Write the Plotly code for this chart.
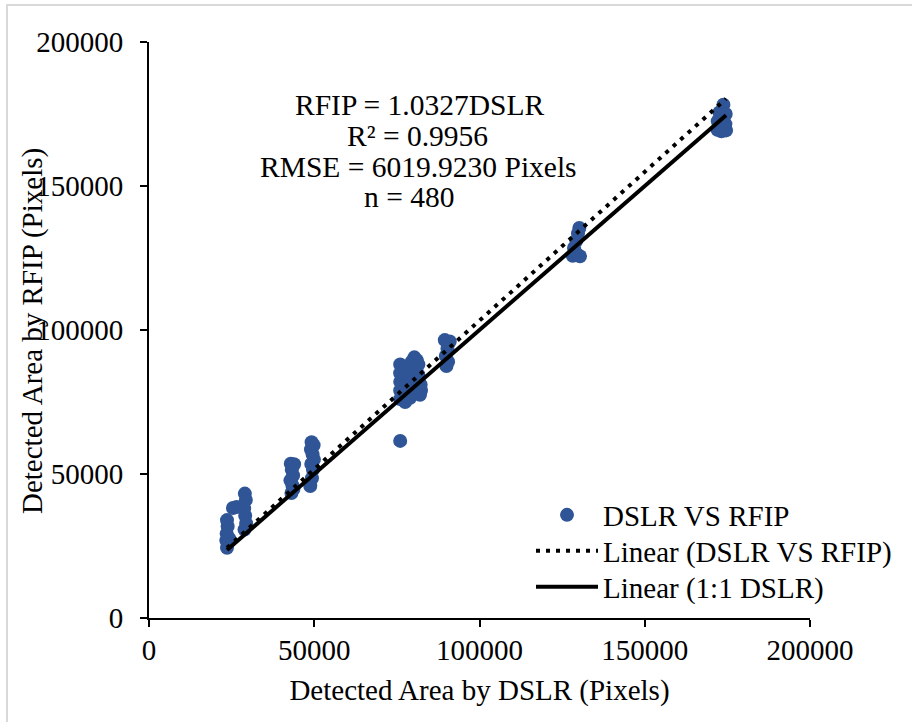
import plotly.graph_objects as go

# ---- data ----
dslr_a = [23600, 23400, 23500, 23800, 23600, 25400, 26500, 24300]
rfip_a = [24400, 26900, 29300, 31800, 34000, 38200, 38500, 27500]

dslr_a2 = [29000, 29300, 28800, 29100, 29400, 28900]
rfip_a2 = [43200, 41000, 38000, 35500, 32800, 30700]

dslr_b = [42900, 43900, 43200, 43600, 42800, 43400, 43700, 43100]
rfip_b = [53600, 53400, 51500, 49500, 47800, 46000, 44800, 43400]

dslr_c = [49200, 49800, 49000, 49500, 49900, 49100, 49600, 49300, 48800]
rfip_c = [61000, 60000, 58500, 56800, 55000, 53500, 51500, 48500, 45800]

dslr_d = [76000, 76000, 76000, 76000, 76000, 77500, 77500, 78000, 78000, 78000,
          79500, 80300, 81000, 80000, 80000, 80000, 81500, 81500, 82200, 82300,
          82000, 79000, 77000, 76000]
rfip_d = [88000, 85000, 82000, 79000, 76000, 75000, 87000, 84000, 81000, 78000,
          89000, 90500, 89500, 86000, 83000, 80000, 88000, 84500, 81000, 79000,
          77500, 76500, 80500, 61500]

dslr_e = [89500, 91000, 90300, 89800, 90500, 90000]
rfip_e = [96500, 96000, 93500, 91000, 89000, 87500]

dslr_f = [130200, 129800, 129300, 128600, 128200, 130400, 129000]
rfip_f = [135400, 133500, 131000, 128500, 125800, 125600, 127000]

dslr_g = [173800, 172600, 174500, 172100, 174400, 172000, 173200, 174600, 173000]
rfip_g = [178200, 175500, 175000, 172500, 171500, 169500, 169000, 169300, 171000]

fit_slope = 1.0327
line_x = [23600, 174600]

annotation_lines = ["RFIP = 1.0327DSLR", "R² = 0.9956",
                    "RMSE = 6019.9230 Pixels", "n = 480"]

x_ticks = [0, 50000, 100000, 150000, 200000]
y_ticks = [0, 50000, 100000, 150000, 200000]

# ---- figure ----
dslr = dslr_a + dslr_a2 + dslr_b + dslr_c + dslr_d + dslr_e + dslr_f + dslr_g
rfip = rfip_a + rfip_a2 + rfip_b + rfip_c + rfip_d + rfip_e + rfip_f + rfip_g

FONT = "Liberation Serif, Times New Roman, serif"
BLUE = "#2F5597"

L, R, T, B = 149, 102, 42, 104
W, H = 912, 722
PW, PH = W - L - R, H - T - B


def px2paper(px, py):
    return (px - L) / PW, (H - B - py) / PH


fig = go.Figure()
fig.add_trace(go.Scatter(x=dslr, y=rfip, mode="markers", name="DSLR VS RFIP",
                         legend="legend",
                         marker=dict(color=BLUE, size=14, line=dict(width=0))))
fig.add_trace(go.Scatter(x=line_x, y=[fit_slope * v for v in line_x], mode="lines",
                         name="Linear (DSLR VS RFIP)", legend="legend2",
                         line=dict(color="black", width=4, dash="4px,6px")))
fig.add_trace(go.Scatter(x=line_x, y=list(line_x), mode="lines",
                         name="Linear (1:1 DSLR)", legend="legend3",
                         line=dict(color="black", width=4)))

line_pos_px = [(419, 105), (417, 136), (418, 167), (409, 197)]
for txt, (xpx, ypx) in zip(annotation_lines, line_pos_px):
    xp, yp = px2paper(xpx, ypx)
    fig.add_annotation(x=xp, y=yp, xref="paper", yref="paper", text=txt,
                       showarrow=False, xanchor="center", yanchor="middle",
                       font=dict(family=FONT, size=29.5, color="black"))

# y-axis title
xp, yp = px2paper(32, 331)
fig.add_annotation(x=xp, y=yp, xref="paper", yref="paper",
                   text="Detected Area by RFIP (Pixels)", textangle=-90,
                   showarrow=False, xanchor="center", yanchor="middle",
                   font=dict(family=FONT, size=29, color="black"))

# light grey frame (top and left edges visible in the reference)
x0, y0 = px2paper(7, 5)
x1, y1 = px2paper(930, 740)
fig.add_shape(type="rect", xref="paper", yref="paper", x0=x0, y0=y1, x1=x1, y1=y0,
              line=dict(color="#D9D9D9", width=2), layer="below")

axis_common = dict(showgrid=False, zeroline=False, showline=True, linecolor="black",
                   linewidth=2, ticks="outside", ticklen=7, tickwidth=2,
                   tickcolor="black", automargin=False,
                   tickfont=dict(family=FONT, size=29, color="black"))

fig.update_xaxes(range=[0, 200000], tickvals=x_ticks,
                 ticktext=[str(v) for v in x_ticks],
                 title=dict(text="Detected Area by DSLR (Pixels)", standoff=15,
                            font=dict(family=FONT, size=29, color="black")),
                 ticklabelstandoff=-2, **axis_common)
fig.update_yaxes(range=[0, 200000], tickvals=y_ticks,
                 ticktext=[str(v) for v in y_ticks],
                 ticklabelstandoff=11, **axis_common)

legend_common = dict(xanchor="left", yanchor="middle", bgcolor="rgba(0,0,0,0)",
                     font=dict(family=FONT, size=29, color="black"), itemwidth=62)
lx, ly1 = px2paper(531, 515)
_, ly2 = px2paper(531, 551)
_, ly3 = px2paper(531, 587)

fig.update_layout(
    width=W, height=H,
    margin=dict(l=L, r=R, t=T, b=B, autoexpand=False),
    paper_bgcolor="white", plot_bgcolor="white",
    font=dict(family=FONT, size=29, color="black"),
    showlegend=True,
    legend=dict(x=lx, y=ly1, **legend_common),
    legend2=dict(x=lx, y=ly2, **legend_common),
    legend3=dict(x=lx, y=ly3, **legend_common),
)

fig.write_html("out.html", config={"displayModeBar": False},
               post_script="document.body.style.margin='0px';"
               "document.body.style.overflow='hidden';")
